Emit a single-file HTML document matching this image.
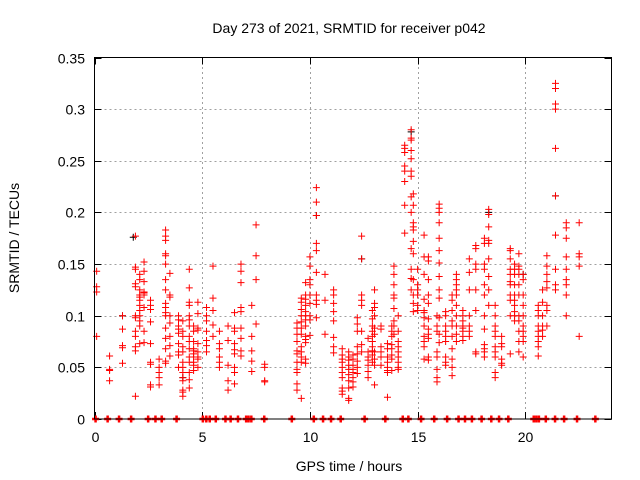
<!DOCTYPE html>
<html><head><meta charset="utf-8"><style>
body{margin:0;background:#fff}
svg{display:block;font-family:"Liberation Sans",sans-serif}
</style></head><body>
<svg id="chart" width="640" height="480" viewBox="0 0 640 480">
<rect width="640" height="480" fill="#fff"/>
<text x="349" y="33" font-size="14" text-anchor="middle" fill="#000">Day 273 of 2021, SRMTID for receiver p042</text>
<text x="349" y="471" font-size="14" text-anchor="middle" fill="#000">GPS time / hours</text>
<text transform="translate(19,238) rotate(-90)" font-size="14" text-anchor="middle" fill="#000">SRMTID / TECUs</text>
<g id="grid"></g>
<g id="ticks"></g>
<g id="series-black"></g>
<g id="series-red"></g>
<rect x="94.5" y="57.5" width="517" height="361.5" fill="none" stroke="#000" stroke-width="1"/>
</svg>
<script>
const xTicks=[0,5,10,15,20];
const yTicks=[0,0.05,0.1,0.15,0.2,0.25,0.3,0.35];
const yTickLabels=["0","0.05","0.1","0.15","0.2","0.25","0.3","0.35"];
const clusterHours=[0.1,0.7,1.3,1.9,2.1,2.3,2.6,3.0,3.3,3.5,3.9,4.1,4.4,4.6,4.8,5.2,5.5,5.8,6.2,6.5,6.8,7.3,7.5,7.9,9.4,9.6,9.8,10.0,10.3,10.7,11.1,11.5,11.8,12.0,12.2,12.4,12.7,12.9,13.0,13.3,13.6,13.8,13.9,14.1,14.4,14.7,14.8,15.0,15.3,15.5,15.9,16.0,16.3,16.6,16.8,17.1,17.4,17.7,18.1,18.3,18.6,18.9,19.3,19.5,19.7,19.9,20.6,20.8,21.0,21.4,21.9,22.5];
const clusterValues=[
[.143,.128,.123,.08],[.061,.048,.047,.037],[.1,.087,.071,.069,.054],
[.177,.147,.145,.131,.128,.1,.098,.085,.08,.07,.066,.022],
[.14,.135,.125,.12,.118,.115,.11,.105,.1,.095,.09,.073],
[.152,.143,.133,.123,.108,.074,.085,.12,.122],
[.115,.11,.106,.094,.073,.055,.053,.033,.031],[.058,.05,.045,.04,.033],
[.183,.177,.173,.16,.158,.15,.135,.125,.112,.108,.103,.1,.088,.078,.068,.056,.054],
[.141,.12,.118,.1,.093,.08,.071,.061],[.1,.096,.09,.087,.083,.073,.065,.062,.05],
[.095,.085,.08,.07,.065,.055,.05,.045,.04,.037,.028,.026,.022],
[.145,.127,.113,.11,.1,.096,.09,.08,.075,.068,.06,.055,.045,.038,.03],
[.09,.085,.075,.068,.066,.063,.06,.055,.052,.047],[.113,.102,.088,.086,.073,.065,.06,.058,.05],
[.108,.1,.095,.085,.076,.071,.065],[.148,.117,.105,.091,.08],[.085,.073,.068,.06,.055,.05],
[.09,.076,.052,.037,.028],[.103,.088,.085,.073,.067,.063,.05,.045,.034],
[.15,.143,.132,.108,.104,.088,.078,.066,.061],[.11,.08,.066,.056,.046],[.188,.158,.135,.092],
[.053,.05,.037,.036],[.093,.088,.082,.075,.066,.063,.055,.048,.045,.034,.028],
[.117,.113,.106,.1,.094,.088,.082,.07,.065,.06,.055,.02],
[.132,.12,.116,.11,.104,.1,.096,.09,.08,.077,.074,.058,.054],
[.157,.148,.135,.13,.12,.112,.1,.096,.081],[.224,.21,.197,.17,.163,.142,.12,.115,.111,.098],
[.14,.115,.082],[.125,.12,.112,.104,.095,.079,.07,.064],
[.068,.062,.058,.055,.05,.045,.04,.03,.027,.024],[.065,.06,.057,.052,.048,.043,.037,.03,.02,.018],
[.062,.058,.052,.048,.045,.04,.036,.031],[.098,.092,.085,.07,.063,.056,.05,.044],
[.177,.155,.12,.115,.11,.085,.072,.065],[.078,.065,.06,.057,.052,.046,.04],
[.105,.097,.09,.085,.08,.075,.07,.066,.062,.055],[.125,.112,.108,.1,.088,.082,.065,.058,.052,.033],
[.09,.087,.07,.065,.06,.052],[.073,.068,.06,.055,.05,.047,.045,.021],
[.09,.085,.08,.072,.068,.062,.058,.047],[.148,.14,.13,.12,.117,.107,.095,.09,.082],
[.1,.085,.075,.07,.065,.06,.055,.05,.048],[.265,.262,.258,.245,.24,.23,.207,.18],
[.28,.272,.27,.26,.252,.24,.235,.215,.2,.165,.145,.136,.125],
[.218,.207,.19,.186,.183,.172,.16,.135,.12,.112,.104],[.145,.13,.125,.12,.11,.105],
[.178,.157,.14,.116,.105,.103,.098,.09,.08,.075,.07,.058],
[.157,.153,.135,.12,.112,.097,.087,.082,.078,.06,.057],[.1,.09,.085,.065,.06,.048,.04,.036],
[.208,.204,.2,.19,.175,.163,.151,.138,.125,.117,.098,.082,.074],
[.104,.1,.09,.085,.08,.075,.06,.055,.052],[.12,.115,.105,.095,.09,.08,.068,.058,.05,.042],
[.14,.135,.13,.125,.12,.11,.1,.09,.082,.075],[.105,.1,.095,.09,.088,.085,.08,.076],
[.155,.142,.125,.1,.09,.085,.08],[.168,.165,.15,.145,.125,.105,.065,.063],
[.175,.17,.15,.145,.13,.12,.1,.087,.072,.068,.065,.06],
[.203,.198,.186,.173,.17,.155,.138,.125,.11],[.11,.1,.09,.085,.08,.07,.065,.06,.045,.04],
[.08,.073,.07,.058,.054,.052],[.165,.163,.155,.145,.14,.133,.13,.12,.115,.1,.063],
[.15,.145,.14,.13,.12,.115,.11,.104,.1,.095],[.16,.148,.145,.14,.13,.12,.1,.095,.085,.075,.065],
[.14,.135,.12,.11,.1,.09,.085,.08,.075,.06],[.11,.105,.1,.09,.085,.08,.075,.07,.061],
[.125,.113,.1,.09,.086,.08],[.158,.148,.14,.133,.127,.11,.105,.09],
[.325,.32,.305,.3,.262,.216,.178,.145,.13,.125],[.19,.185,.175,.157,.145,.135,.13,.12,.1],
[.19,.16,.157,.148,.08]];
const zeroHours=[0.05,0.61,1.14,1.7,2.49,2.83,3.12,3.81,5.03,5.19,5.35,5.63,6.08,6.32,6.66,7.04,7.15,7.28,7.88,9.16,10.18,10.61,10.98,11.43,12.54,13.5,14.31,14.57,15.16,15.77,16.37,16.9,17.2,17.52,17.97,18.42,18.78,19.21,20.39,20.51,20.63,20.95,21.38,21.8,22.4,23.25];
const blackHours=[1.8,4.1,10.3,12.4,14.7,18.3,21.4,1.3,19.9];
const blackValues=[.176,.04,.197,.155,.278,.2,.216,.1,.14];

const X0=94.5,X1=611.5,Y0=419,Y1=57.5,XMAX=24,YMAX=0.35;
const xs=h=>X0+(X1-X0)*h/XMAX;
const ys=v=>Y0-(Y0-Y1)*v/YMAX;
const NS="http://www.w3.org/2000/svg";
function mk(tag,attrs,parent){const e=document.createElementNS(NS,tag);for(const k in attrs)e.setAttribute(k,attrs[k]);parent.appendChild(e);return e;}
const grid=document.getElementById('grid'),ticks=document.getElementById('ticks');
yTicks.forEach((v,i)=>{
  const y=Math.round(ys(v))+0.5;
  if(i>0&&i<yTicks.length-1){const g=mk('line',{x1:X0,x2:X1,y1:y,y2:y,stroke:'#a0a0a0','stroke-dasharray':'2,3'},grid);
  
  }
  mk('line',{x1:X0,x2:X0+7,y1:y,y2:y,stroke:'#000'},ticks);
  mk('line',{x1:X1-7,x2:X1,y1:y,y2:y,stroke:'#000'},ticks);
  const t=mk('text',{x:85,y:y+5,'font-size':14,'text-anchor':'end',fill:'#000'},ticks);t.textContent=yTickLabels[i];
  
  
});
xTicks.forEach(h=>{
  const x=Math.round(xs(h))+0.5;
  if(h>0){const g=mk('line',{x1:x,x2:x,y1:Y0,y2:Y1,stroke:'#a0a0a0','stroke-dasharray':'2,3'},grid);
  
  }
  mk('line',{x1:x,x2:x,y1:Y0,y2:Y0-7,stroke:'#000'},ticks);
  mk('line',{x1:x,x2:x,y1:Y1,y2:Y1+7,stroke:'#000'},ticks);
  const t=mk('text',{x:x,y:442,'font-size':14,'text-anchor':'middle',fill:'#000'},ticks);t.textContent=String(h);
  
  
});
function plus(parent,h,v,color,w){
  const x=xs(h),y=ys(v);
  const p=mk('path',{d:`M${x-3.5},${y}H${x+3.5}M${x},${y-3.5}V${y+3.5}`,stroke:color,'stroke-width':w||1,fill:'none'},parent);
  
  
}
const sb=document.getElementById('series-black'),sr=document.getElementById('series-red');
blackHours.forEach((h,i)=>plus(sb,h,blackValues[i],'#000'));
clusterHours.forEach((h,i)=>clusterValues[i].forEach(v=>plus(sr,h,v,'#ff0000')));
zeroHours.forEach(h=>plus(sr,h,0,'#ff0000',2.5));
</script>
</body></html>
